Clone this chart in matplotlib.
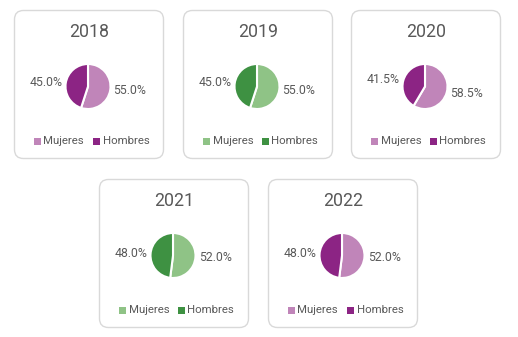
import numpy as np
import matplotlib
matplotlib.use("Agg")
import matplotlib.pyplot as plt
from matplotlib.patches import FancyBboxPatch, Rectangle

plt.rcParams['font.family'] = ['Roboto', 'DejaVu Sans']

years = ["2018", "2019", "2020", "2021", "2022"]
mujeres = [55.0, 55.0, 58.5, 52.0, 52.0]
hombres = [45.0, 45.0, 41.5, 48.0, 48.0]
categories = ["Mujeres", "Hombres"]
palettes = ["purple", "green", "purple", "green", "purple"]
colors = {"purple": ["#c085b9", "#8c2484"], "green": ["#8fc386", "#3e9142"]}

W, H = 518, 337
fig = plt.figure(figsize=(W / 100, H / 100), dpi=100)
bg = fig.add_axes([0, 0, 1, 1])
bg.set_xlim(0, W)
bg.set_ylim(H, 0)
bg.axis("off")

cards = [(14, 10), (183, 10), (351, 10), (99, 179), (268, 179)]
cw, ch = 150, 149
tc = "#595959"

for i, (x0, y0) in enumerate(cards):
    bg.add_patch(FancyBboxPatch((x0 + 0.5, y0 + 0.5), cw - 1, ch - 1,
                                boxstyle="round,pad=0,rounding_size=9",
                                fc="white", ec="#d9d9d9", lw=1.0))
    bg.text(x0 + 75, y0 + 22, years[i], ha="center", va="center",
            fontsize=12.8, color=tc)
    cols = colors[palettes[i]]
    # legend
    ly = y0 + 131
    for j, (mx, tx) in enumerate([(20, 29.5), (79, 88.5)]):
        bg.add_patch(Rectangle((x0 + mx, ly - 3.5), 7, 7, fc=cols[j], ec="none"))
        bg.text(x0 + tx, ly, categories[j], ha="left", va="center",
                fontsize=8.2, color=tc)
    # pie
    r = 22.5
    cx, cy = x0 + 74, y0 + 76.5
    ax = fig.add_axes([(cx - r) / W, 1 - (cy + r) / H, 2 * r / W, 2 * r / H])
    vals = [mujeres[i], hombres[i]]
    ax.pie(vals, colors=cols, startangle=90, counterclock=False, radius=1,
           wedgeprops=dict(edgecolor="white", linewidth=1.5))
    ax.set_xlim(-1, 1)
    ax.set_ylim(-1, 1)
    ax.set_aspect("auto")
    ax.axis("off")
    start = 90.0
    for v in vals:
        mid = np.deg2rad(start - v * 3.6 / 2)
        start -= v * 3.6
        px, py = 1.15 * np.cos(mid), 1.1 * np.sin(mid)
        ha = "left" if np.cos(mid) > 0 else "right"
        ax.text(px, py, f"{v:.1f}%", ha=ha, va="center", fontsize=8.8, color=tc,
                clip_on=False)

fig.savefig("out.png", dpi=100)
